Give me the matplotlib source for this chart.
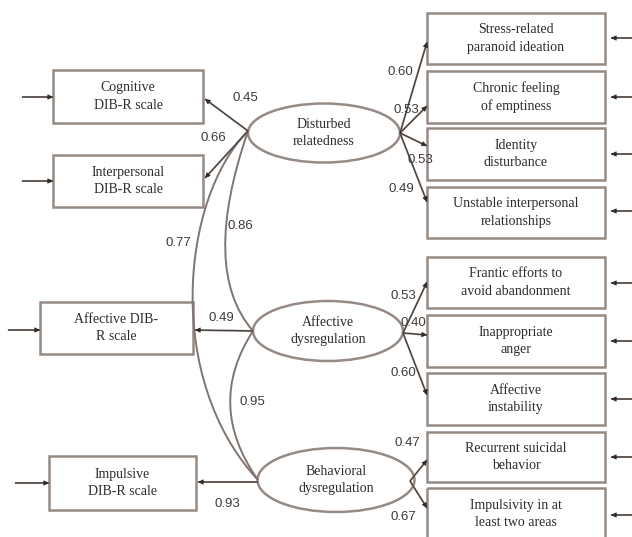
import matplotlib
matplotlib.use("Agg")
import matplotlib.pyplot as plt
from matplotlib.patches import Rectangle, Ellipse
from matplotlib.path import Path
import matplotlib.patches as mpatches

# ---- data ----
factor_labels = ["Disturbed\nrelatedness", "Affective\ndysregulation", "Behavioral\ndysregulation"]
scale_labels = ["Cognitive\nDIB-R scale", "Interpersonal\nDIB-R scale",
                "Affective DIB-\nR scale", "Impulsive\nDIB-R scale"]
criterion_labels = ["Stress-related\nparanoid ideation", "Chronic feeling\nof emptiness",
                    "Identity\ndisturbance", "Unstable interpersonal\nrelationships",
                    "Frantic efforts to\navoid abandonment", "Inappropriate\nanger",
                    "Affective\ninstability", "Recurrent suicidal\nbehavior",
                    "Impulsivity in at\nleast two areas"]
# which factor each criterion loads on, and the loading
criterion_factor = [0, 0, 0, 0, 1, 1, 1, 2, 2]
criterion_loadings = ["0.60", "0.53", "0.53", "0.49", "0.53", "0.40", "0.60", "0.47", "0.67"]
# factor -> DIB-R scale paths (factor index, scale index, value)
scale_paths = [(0, 0, "0.45"), (0, 1, "0.66"), (1, 2, "0.49"), (2, 3, "0.93")]
# factor correlations (factor a, factor b, value)
correlations = [(0, 1, "0.86"), (0, 2, "0.77"), (1, 2, "0.95")]

# ---- layout (pixel coords, y downward) ----
W, H = 632, 537
line_c = "#807570"
edge_c = "#958a84"
head_c = "#2e2a28"
text_c = "#2e2b2a"
num_c = "#3e3a38"

ell_geom = [(324, 133, 152, 59), (328, 331, 150, 60), (336, 480, 157, 64)]
scale_boxes = [(53, 70, 203, 123), (53, 155, 203, 207), (40, 302, 193, 354), (49, 456, 196, 510)]
crit_rows = [(13, 64), (71, 123), (128, 180), (187, 238), (257, 308),
             (315, 367), (373, 425), (432, 482), (488, 540)]
crit_x0, crit_x1 = 427, 605
crit_arrow_y = [38, 97, 154, 211, 283, 341, 399, 457, 515]
crit_end_y = [42, 106, 146, 202, 282, 335, 395, 460, 508]
crit_start = [(400, 133)] * 4 + [(403, 333)] * 3 + [(410, 481)] * 2
crit_lab_xy = [(400, 72), (406, 110), (420, 160), (401, 189), (403, 296),
               (413, 323), (403, 373), (407, 443), (403, 517)]
scale_start = [(248, 131), (248, 131), (253, 331), (258, 482)]
scale_end = [(205, 99), (205, 178), (195, 330), (198, 482)]
scale_lab_xy = [(245, 98), (213, 138), (221, 318), (227, 504)]
scale_in = [(22, 97), (22, 181), (8, 330), (15, 483)]
corr_ctrl = {(0, 1): [(248, 131), (200, 270), (253, 331)],
             (0, 2): [(248, 131), (180, 200), (165, 380), (258, 480)],
             (1, 2): [(253, 331), (205, 405), (258, 480)]}
corr_lab_xy = [(240, 226), (178, 243), (252, 402)]

fig = plt.figure(figsize=(W / 100, H / 100), dpi=100)
ax = fig.add_axes([0, 0, 1, 1])
ax.set_xlim(0, W)
ax.set_ylim(H, 0)
ax.axis("off")

serif = "Liberation Serif"
sans = "Liberation Sans"


def arrow(p0, p1):
    ax.plot([p0[0], p1[0]], [p0[1], p1[1]], color=line_c, lw=1.4,
            solid_capstyle="butt")
    ax.annotate("", xy=p1, xytext=p0,
                arrowprops=dict(arrowstyle="-|>", color=head_c, lw=0.5,
                                mutation_scale=8, shrinkA=0, shrinkB=0))


def box(x0, y0, x1, y1, label):
    ax.add_patch(Rectangle((x0, y0), x1 - x0, y1 - y0, fill=False,
                           ec=edge_c, lw=1.8))
    ax.text((x0 + x1) / 2, (y0 + y1) / 2, label, ha="center", va="center",
            fontsize=10, family=serif, color=text_c, linespacing=1.45)


def num(xy, s):
    ax.text(xy[0], xy[1], s, ha="center", va="center", fontsize=9.5,
            family=sans, color=num_c)


# factors
for (cx, cy, w, h), lab in zip(ell_geom, factor_labels):
    ax.add_patch(Ellipse((cx, cy), w, h, fill=False, ec=edge_c, lw=1.8))
    ax.text(cx, cy, lab, ha="center", va="center", fontsize=10,
            family=serif, color=text_c, linespacing=1.45)

# DIB-R scales
for i, lab in enumerate(scale_labels):
    box(*scale_boxes[i], lab)
    x0, y0, x1, y1 = scale_boxes[i]
    arrow(scale_in[i], (x0, scale_in[i][1]))

for k, (f, s, v) in enumerate(scale_paths):
    arrow(scale_start[s], scale_end[s])
    num(scale_lab_xy[s], v)

# criteria
for i, lab in enumerate(criterion_labels):
    y0, y1 = crit_rows[i]
    box(crit_x0, y0, crit_x1, y1, lab)
    arrow((W, crit_arrow_y[i]), (611, crit_arrow_y[i]))
    arrow(crit_start[i], (crit_x0, crit_end_y[i]))
    num(crit_lab_xy[i], criterion_loadings[i])

# correlations
for k, (a, b, v) in enumerate(correlations):
    pts = corr_ctrl[(a, b)]
    codes = [Path.MOVETO] + ([Path.CURVE3] * 2 if len(pts) == 3 else [Path.CURVE4] * 3)
    ax.add_patch(mpatches.PathPatch(Path(pts, codes), fill=False, ec=line_c, lw=1.4))
    num(corr_lab_xy[k], v)

fig.savefig("out.png", dpi=100)
